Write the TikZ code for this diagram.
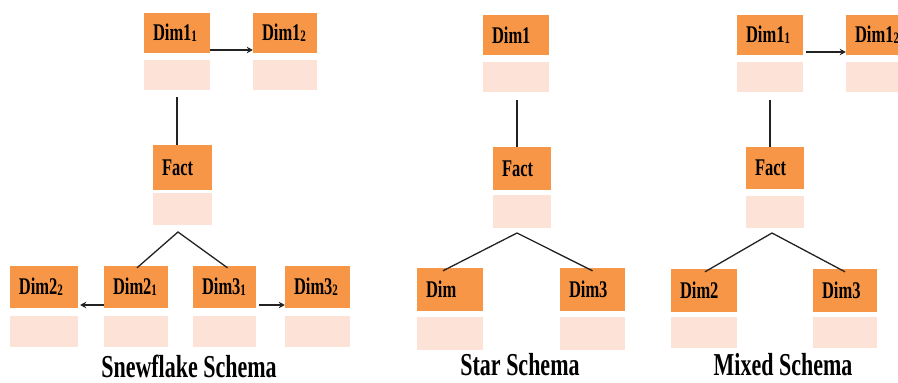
\documentclass[tikz,border=0pt]{standalone}
\usepackage{fontspec}
\usepackage{graphicx}
\setmainfont{Liberation Serif}
\usetikzlibrary{arrows.meta}

\definecolor{hdr}{HTML}{F79646}
\definecolor{rowfill}{HTML}{FDE3D7}
\definecolor{wire}{HTML}{222222}

% tall, narrow bold lettering
\newcommand{\tall}[1]{\scalebox{1}[1.45]{#1}}
\newcommand{\lbl}[1]{\tall{\fontsize{16.5}{18}\selectfont\bfseries #1}}
\newcommand{\lowdig}[1]{\raisebox{-0.6pt}{\fontsize{11}{12}\selectfont #1}}
\newcommand{\schemacap}[1]{\tall{\fontsize{22}{24}\selectfont\bfseries #1}}

\tikzset{
  headbox/.style={fill=hdr, inner xsep=9pt, inner ysep=0pt, align=left, anchor=center},
  bodybox/.style={fill=rowfill, inner sep=0pt, anchor=center},
  wireline/.style={draw=wire, line width=1.3pt},
  arrowline/.style={draw=wire, line width=1.5pt, -{Stealth[length=6pt,width=6.5pt]}},
  capt/.style={inner sep=0pt, anchor=center}
}

\begin{document}
\begin{tikzpicture}[x=1pt,y=-1pt]
\useasboundingbox (0,0) rectangle (898,383);
\clip (0,0) rectangle (898,383);

% ---------------- Snowflake schema ----------------
\node[headbox, text width=48pt, minimum height=40pt] (s11) at (177,33) {\lbl{Dim1\lowdig{1}}};
\node[bodybox, minimum width=66pt, minimum height=30pt] (s11b) at (177,75) {};
\node[headbox, text width=46pt, minimum height=40pt] (s12) at (285,33) {\lbl{Dim1\lowdig{2}}};
\node[bodybox, minimum width=64pt, minimum height=30pt] (s12b) at (285,75) {};

\node[headbox, text width=41pt, minimum height=45pt] (sf) at (182.5,167.5) {\lbl{Fact}};
\node[bodybox, minimum width=59pt, minimum height=32pt] (sfb) at (182.5,209) {};

\node[headbox, text width=50pt, minimum height=42pt] (s22) at (44,287) {\lbl{Dim2\lowdig{2}}};
\node[bodybox, minimum width=68pt, minimum height=31pt] (s22b) at (44,331.5) {};
\node[headbox, text width=46pt, minimum height=42pt] (s21) at (136,287) {\lbl{Dim2\lowdig{1}}};
\node[bodybox, minimum width=64pt, minimum height=31pt] (s21b) at (136,331.5) {};
\node[headbox, text width=45pt, minimum height=42pt] (s31) at (224.5,287) {\lbl{Dim3\lowdig{1}}};
\node[bodybox, minimum width=63pt, minimum height=31pt] (s31b) at (224.5,331.5) {};
\node[headbox, text width=47pt, minimum height=42pt] (s32) at (317.5,287) {\lbl{Dim3\lowdig{2}}};
\node[bodybox, minimum width=65pt, minimum height=31pt] (s32b) at (317.5,331.5) {};

\coordinate (sapex) at (178,232);
\draw[wireline] ([yshift=-7pt]s11b.south) -- (s11b.south |- sf.north);
\draw[wireline] ([yshift=-2pt,xshift=1pt]s21.north) -- (sapex) -- ([yshift=-2pt,xshift=3pt]s31.north);
\draw[arrowline] ([yshift=-17pt]s11.east) -- ([yshift=-17pt]s12.west);
\draw[arrowline] ([yshift=-18pt]s21.west) -- ([yshift=-18pt,xshift=2pt]s22.east);
\draw[arrowline] ([yshift=-18pt,xshift=3pt]s31.east) -- ([yshift=-18pt]s32.west);

\node[capt] (scap) at (189,366) {\schemacap{Snewflake Schema}};

% ---------------- Star schema ----------------
\node[headbox, text width=48pt, minimum height=40pt] (t1) at (516,35) {\lbl{Dim1}};
\node[bodybox, minimum width=66pt, minimum height=30pt] (t1b) at (516,77) {};

\node[headbox, text width=40pt, minimum height=43pt] (tf) at (522,168.5) {\lbl{Fact}};
\node[bodybox, minimum width=58pt, minimum height=33pt] (tfb) at (522,211.5) {};

\node[headbox, text width=48pt, minimum height=43pt] (t2) at (450,289.5) {\lbl{Dim}};
\node[bodybox, minimum width=66pt, minimum height=33pt] (t2b) at (450,333.5) {};
\node[headbox, text width=47pt, minimum height=43pt] (t3) at (592.5,289.5) {\lbl{Dim3}};
\node[bodybox, minimum width=65pt, minimum height=33pt] (t3b) at (592.5,333.5) {};

\coordinate (tapex) at (517,233);
\draw[wireline] ([yshift=-8pt,xshift=1pt]t1b.south) -- ([xshift=1pt]t1b.south |- tf.north);
\draw[wireline] ([yshift=-3pt,xshift=-7pt]t2.north) -- (tapex) -- ([yshift=-3pt]t3.north);

\node[capt] (tcap) at (520,365) {\schemacap{Star Schema}};

% ---------------- Mixed schema ----------------
\node[headbox, text width=48pt, minimum height=40pt] (m11) at (770,35) {\lbl{Dim1\lowdig{1}}};
\node[bodybox, minimum width=66pt, minimum height=30pt] (m11b) at (770,77) {};
\node[headbox, text width=48pt, minimum height=40pt] (m12) at (879,35) {\lbl{Dim1\lowdig{2}}};
\node[bodybox, minimum width=66pt, minimum height=30pt] (m12b) at (879,77) {};

\node[headbox, text width=40pt, minimum height=42pt] (mf) at (775,168) {\lbl{Fact}};
\node[bodybox, minimum width=58pt, minimum height=32pt] (mfb) at (775,212) {};

\node[headbox, text width=48pt, minimum height=43pt] (m2) at (704,290.5) {\lbl{Dim2}};
\node[bodybox, minimum width=66pt, minimum height=31pt] (m2b) at (704,332.5) {};
\node[headbox, text width=46pt, minimum height=43pt] (m3) at (845,290.5) {\lbl{Dim3}};
\node[bodybox, minimum width=64pt, minimum height=31pt] (m3b) at (845,332.5) {};

\coordinate (mapex) at (772,233);
\draw[wireline] ([yshift=-8pt]m11b.south) -- (m11b.south |- mf.north);
\draw[wireline] ([yshift=-3pt,xshift=1pt]m2.north) -- (mapex) -- ([yshift=-3pt]m3.north);
\draw[arrowline] ([yshift=-17pt,xshift=3pt]m11.east) -- ([yshift=-17pt]m12.west);

\node[capt] (mcap) at (783,365) {\schemacap{Mixed Schema}};

\end{tikzpicture}
\end{document}
